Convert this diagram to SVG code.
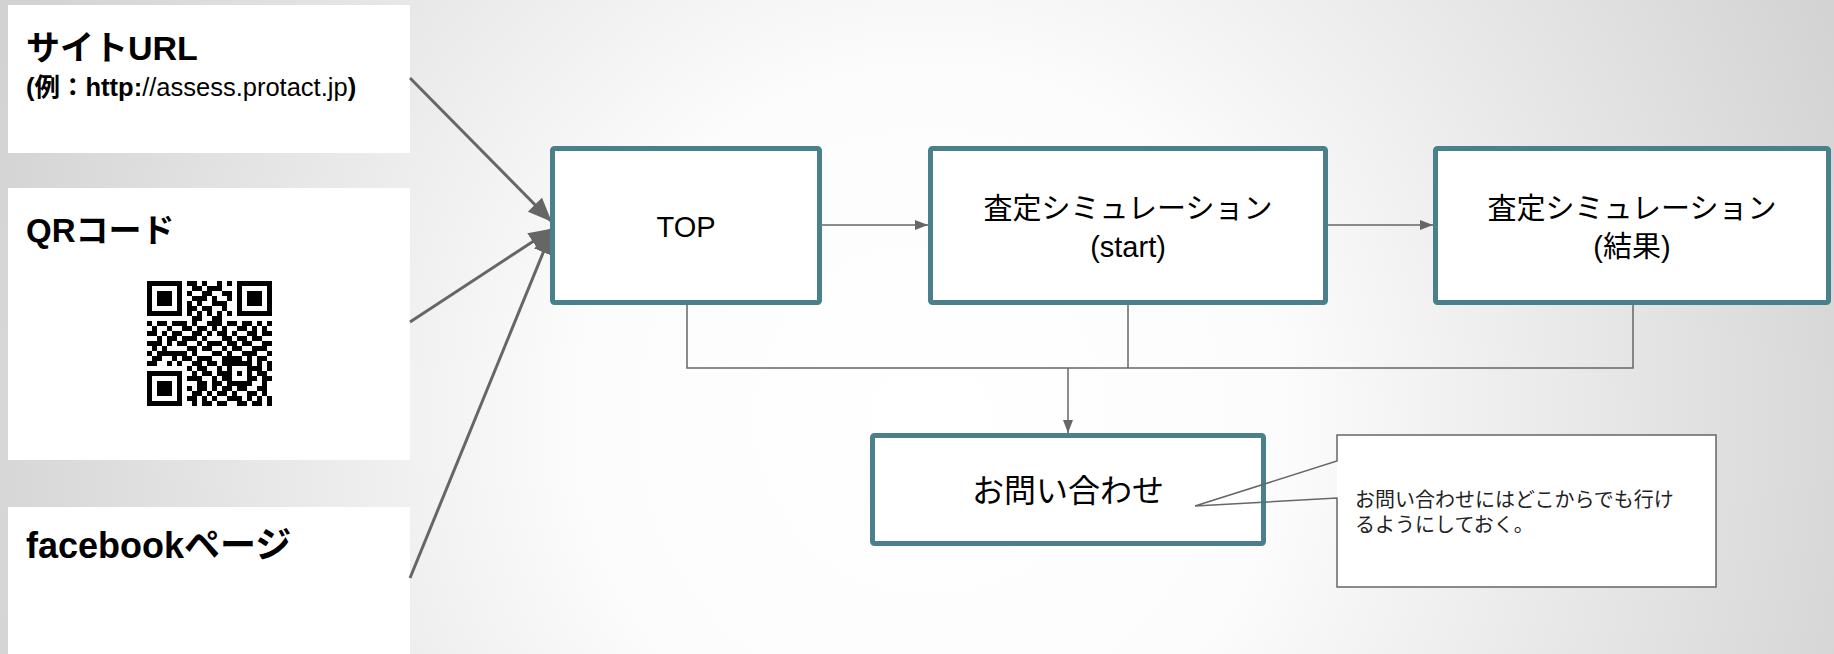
<svg xmlns="http://www.w3.org/2000/svg" width="1834" height="654" viewBox="0 0 1834 654">
<defs>
<radialGradient id="bg" gradientUnits="userSpaceOnUse" cx="930" cy="420" r="1000">
<stop offset="0" stop-color="#ffffff"/>
<stop offset="0.35" stop-color="#fcfcfc"/>
<stop offset="1" stop-color="#d2d2d2"/>
</radialGradient>
<marker id="bigArrow" markerUnits="userSpaceOnUse" markerWidth="24" markerHeight="20" viewBox="0 0 24 20" refX="23" refY="10" orient="auto">
<path d="M0,0 L24,10 L0,20 z" fill="#666666"/>
</marker>
<marker id="smallArrow" markerUnits="userSpaceOnUse" markerWidth="13" markerHeight="10" viewBox="0 0 13 10" refX="13" refY="5" orient="auto">
<path d="M0,0 L13,5 L0,10 z" fill="#666666"/>
</marker>
</defs>
<style>
text{font-family:"Liberation Sans","Noto Sans CJK JP",sans-serif;fill:#000}
.panel{fill:#ffffff}
.title{font-size:34px;font-weight:bold}
.url{font-size:25.5px}
.b{font-weight:bold}
.box{fill:#ffffff;stroke:#4a7f8c;stroke-width:5}
.lbl{font-size:29px;text-anchor:middle}
.lbl2{font-size:32px;text-anchor:middle}
.note{font-size:20px;fill:#222222}
.thick{fill:none;stroke:#666666;stroke-width:3}
.thin{fill:none;stroke:#666666;stroke-width:1.5}
</style>
<rect x="0" y="0" width="1834" height="654" fill="url(#bg)"/>

<g id="site-url">
<rect class="panel" x="8" y="5" width="402" height="148"/>
<text class="title" x="26" y="60">サイトURL</text>
<text class="url" x="26" y="96"><tspan class="b">(例：http:</tspan>//assess.protact.jp<tspan class="b">)</tspan></text>
</g>

<g id="qr-code">
<rect class="panel" x="8" y="188" width="402" height="272"/>
<text class="title" x="26" y="242" style="font-size:33px">QRコード</text>
<g transform="translate(147 281) scale(5)" fill="#000000" shape-rendering="crispEdges">
<path fill-rule="evenodd" d="M0 0h7v7h-7z M1 1v5h5v-5z M2 2h3v3h-3z M18 0h7v7h-7z M19 1v5h5v-5z M20 2h3v3h-3z M0 18h7v7h-7z M1 19v5h5v-5z M2 20h3v3h-3z"/>
<path d="M8 0h2v1h-2z M11 0h1v1h-1z M14 0h1v1h-1z M16 0h1v1h-1z
M9 1h2v1h-2z M12 1h3v1h-3z
M8 2h1v1h-1z M11 2h2v1h-2z M15 2h2v1h-2z
M9 3h3v1h-3z M13 3h1v1h-1z M16 3h1v1h-1z
M8 4h1v1h-1z M10 4h1v1h-1z M13 4h3v1h-3z
M8 5h2v1h-2z M11 5h2v1h-2z M15 5h1v1h-1z
M8 6h1v1h-1z M10 6h1v1h-1z M12 6h1v1h-1z M14 6h1v1h-1z M16 6h1v1h-1z
M9 7h2v1h-2z M13 7h2v1h-2z
M0 8h1v1h-1z M2 8h2v1h-2z M5 8h3v1h-3z M9 8h1v1h-1z M12 8h3v1h-3z M16 8h2v1h-2z M19 8h2v1h-2z M22 8h1v1h-1z M24 8h1v1h-1z
M1 9h1v1h-1z M4 9h1v1h-1z M7 9h2v1h-2z M10 9h2v1h-2z M13 9h1v1h-1z M15 9h1v1h-1z M18 9h2v1h-2z M21 9h1v1h-1z M23 9h1v1h-1z
M0 10h2v1h-2z M3 10h1v1h-1z M5 10h2v1h-2z M9 10h2v1h-2z M12 10h1v1h-1z M14 10h2v1h-2z M17 10h1v1h-1z M20 10h2v1h-2z M23 10h2v1h-2z
M2 11h1v1h-1z M4 11h2v1h-2z M7 11h3v1h-3z M11 11h1v1h-1z M15 11h2v1h-2z M18 11h2v1h-2z M21 11h2v1h-2z
M0 12h3v1h-3z M4 12h1v1h-1z M6 12h2v1h-2z M10 12h1v1h-1z M12 12h3v1h-3z M16 12h2v1h-2z M19 12h2v1h-2z M23 12h2v1h-2z
M1 13h1v1h-1z M3 13h1v1h-1z M8 13h2v1h-2z M11 13h2v1h-2z M15 13h1v1h-1z M17 13h2v1h-2z M21 13h3v1h-3z
M0 14h1v1h-1z M2 14h6v1h-6z M9 14h1v1h-1z M13 14h2v1h-2z M16 14h1v1h-1z M19 14h3v1h-3z M24 14h1v1h-1z
M1 15h2v1h-2z M5 15h1v1h-1z M7 15h2v1h-2z M10 15h3v1h-3z M15 15h4v1h-4z M20 15h1v1h-1z M22 15h2v1h-2z
M0 16h2v1h-2z M4 16h1v1h-1z M6 16h1v1h-1z M9 16h2v1h-2z M12 16h2v1h-2z M15 16h6v1h-6z M22 16h1v1h-1z M24 16h1v1h-1z
M8 17h1v1h-1z M10 17h2v1h-2z M14 17h1v1h-1z M16 17h1v1h-1z M20 17h3v1h-3z M24 17h1v1h-1z
M9 18h1v1h-1z M11 18h2v1h-2z M14 18h3v1h-3z M18 18h1v1h-1z M20 18h1v1h-1z M22 18h2v1h-2z
M8 19h3v1h-3z M13 19h1v1h-1z M15 19h2v1h-2z M20 19h2v1h-2z M23 19h2v1h-2z
M10 20h2v1h-2z M13 20h2v1h-2z M16 20h5v1h-5z M23 20h1v1h-1z
M8 21h1v1h-1z M10 21h2v1h-2z M13 21h1v1h-1z M15 21h2v1h-2z M18 21h2v1h-2z M22 21h2v1h-2z
M9 22h2v1h-2z M12 22h1v1h-1z M14 22h2v1h-2z M17 22h1v1h-1z M20 22h2v1h-2z M23 22h1v1h-1z
M8 23h2v1h-2z M11 23h1v1h-1z M13 23h1v1h-1z M16 23h3v1h-3z M20 23h1v1h-1z M22 23h1v1h-1z M24 23h1v1h-1z
M9 24h1v1h-1z M11 24h2v1h-2z M14 24h2v1h-2z M18 24h2v1h-2z M21 24h2v1h-2z M24 24h1v1h-1z"/>
</g>
</g>

<g id="facebook-page">
<rect class="panel" x="8" y="507" width="402" height="147"/>
<text class="title" x="26" y="558" style="font-size:36px">facebookページ</text>
</g>

<g id="connectors">
<line class="thick" x1="410" y1="78" x2="551" y2="221" marker-end="url(#bigArrow)"/>
<line class="thick" x1="410" y1="322" x2="552" y2="229" marker-end="url(#bigArrow)"/>
<line class="thick" x1="410" y1="578" x2="552" y2="231" marker-end="url(#bigArrow)"/>
<line class="thin" x1="822" y1="225" x2="928" y2="225" marker-end="url(#smallArrow)"/>
<line class="thin" x1="1328" y1="225" x2="1433" y2="225" marker-end="url(#smallArrow)"/>
<path class="thin" d="M687,305 V368 H1633 V305"/>
<path class="thin" d="M1128,305 V368"/>
<line class="thin" x1="1068" y1="368" x2="1068" y2="433" marker-end="url(#smallArrow)"/>
</g>

<g id="top">
<rect class="box" x="552.5" y="148.5" width="267" height="154" rx="2"/>
<text class="lbl" x="686" y="237">TOP</text>
</g>

<g id="sim-start">
<rect class="box" x="930.5" y="148.5" width="395" height="154" rx="2"/>
<text class="lbl" x="1128" y="219">査定シミュレーション</text>
<text class="lbl" x="1128" y="257">(start)</text>
</g>

<g id="sim-result">
<rect class="box" x="1435.5" y="148.5" width="393" height="154" rx="2"/>
<text class="lbl" x="1632" y="219">査定シミュレーション</text>
<text class="lbl" x="1632" y="257">(結果)</text>
</g>

<g id="contact">
<rect class="box" x="872.5" y="435.5" width="391" height="108" rx="2"/>
<text class="lbl2" x="1068" y="502">お問い合わせ</text>
</g>

<g id="note">
<rect x="1337" y="435" width="379" height="152" fill="#ffffff"/>
<path d="M1337,435 H1716 V587 H1337 V498 L1195,506 L1337,461 Z" fill="none" stroke="#666666" stroke-width="1.5"/>
<text class="note" x="1355" y="507">お問い合わせにはどこからでも行け</text>
<text class="note" x="1355" y="532">るようにしておく。</text>
</g>
</svg>
